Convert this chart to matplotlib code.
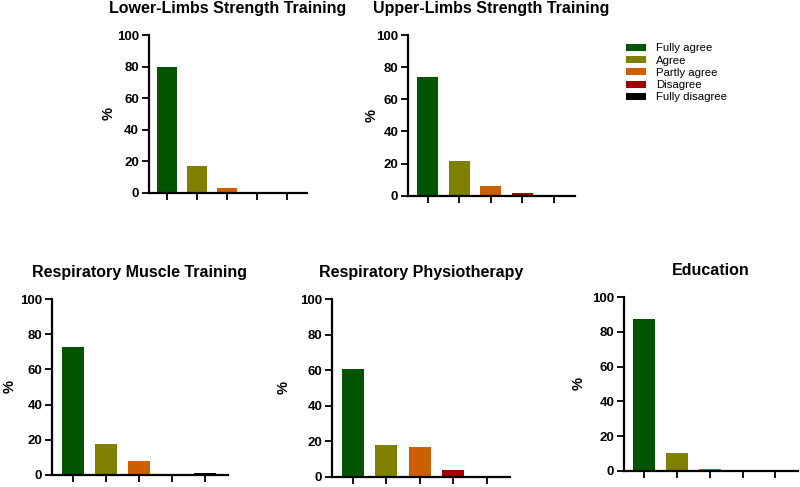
import numpy as np
import matplotlib
matplotlib.use('Agg')
import matplotlib.pyplot as plt
from matplotlib.patches import Patch

plt.rcParams['font.family'] = ['Liberation Sans', 'DejaVu Sans']

# kategorie odpowiedzi i kolory
odpowiedzi = ['Fully agree', 'Agree', 'Partly agree', 'Disagree', 'Fully disagree']
kolory = ['#005400', '#7f7f00', '#cc5f00', '#a00000', '#000000']

# wartości w % dla każdego wykresu
tytuly = ['Lower-Limbs Strength Training', 'Upper-Limbs Strength Training',
          'Respiratory Muscle Training', 'Respiratory Physiotherapy', 'Education']
lower_limbs = [80, 17, 3, 0, 0]
upper_limbs = [74, 21.5, 6, 2, 0]
resp_muscle = [72.5, 17.5, 8, 0.3, 1]
resp_physio = [60.5, 18, 16.5, 3.7, 0]
edukacja = [87.5, 10.5, 1, 0, 0.5]
wartosci = [lower_limbs, upper_limbs, resp_muscle, resp_physio, edukacja]

# pozycje osi [left, bottom, width, height]
pozycje = [
    [0.186, 0.604, 0.198, 0.324],
    [0.510, 0.598, 0.209, 0.330],
    [0.065, 0.025, 0.220, 0.361],
    [0.415, 0.021, 0.222, 0.365],
    [0.780, 0.033, 0.217, 0.357],
]
# odstęp etykiety '%' od osi
odstepy = [1, -2, 2.5, 7, 5]

fig = plt.figure(figsize=(8, 4.87), dpi=100)

x = np.arange(len(odpowiedzi))
for tyt, val, poz, od in zip(tytuly, wartosci, pozycje, odstepy):
    ax = fig.add_axes(poz)
    ax.bar(x, val, width=0.66, color=kolory)
    ax.set_xlim(-0.62, 4.68)
    ax.set_ylim(0, 100)
    ax.set_yticks([0, 20, 40, 60, 80, 100])
    ax.set_xticks(x)
    ax.set_xticklabels([])
    ax.spines['top'].set_visible(False)
    ax.spines['right'].set_visible(False)
    ax.spines['left'].set_linewidth(1.6)
    ax.spines['bottom'].set_linewidth(1.6)
    ax.tick_params(axis='both', width=1.3, length=5, direction='out', pad=2)
    for lab in ax.get_yticklabels():
        lab.set_fontweight('bold')
        lab.set_fontsize(9.5)
    ax.set_ylabel('%', fontsize=10.5, fontweight='bold', labelpad=od)
    ax.set_title(tyt, fontsize=11.5, fontweight='bold', pad=16)

# legenda
uchwyty = [Patch(facecolor=k, label=o) for k, o in zip(kolory, odpowiedzi)]
fig.legend(handles=uchwyty, loc='upper left', bbox_to_anchor=(0.77, 0.932),
           frameon=False, fontsize=8.2, handlelength=1.7, handleheight=0.55,
           labelspacing=0.2, handletextpad=0.9)

fig.savefig('out.png', dpi=100)
